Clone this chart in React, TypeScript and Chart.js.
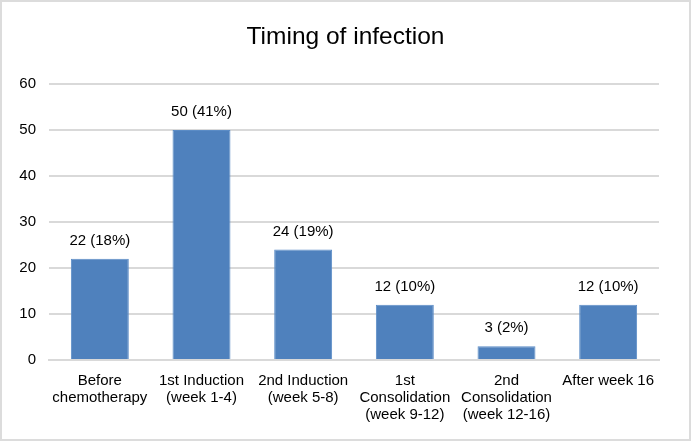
import React, { useEffect, useRef } from "react";
import { Chart, registerables } from "chart.js";

Chart.register(...registerables);

const categories: string[][] = [
  ["Before", "chemotherapy"],
  ["1st Induction", "(week 1-4)"],
  ["2nd Induction", "(week 5-8)"],
  ["1st", "Consolidation", "(week 9-12)"],
  ["2nd", "Consolidation", "(week 12-16)"],
  ["After week 16"],
];
const counts: number[] = [22, 50, 24, 12, 3, 12];
const percents: string[] = ["18%", "41%", "19%", "10%", "2%", "10%"];
const yTicks: number[] = [0, 10, 20, 30, 40, 50, 60];
const titleText = "Timing of infection";

const FONT = "'Liberation Sans', Arial, sans-serif";

export default function App() {
  const ref = useRef<HTMLCanvasElement | null>(null);

  useEffect(() => {
    document.body.style.margin = "0";
    const canvas = ref.current;
    if (!canvas) return;

    const frame = {
      id: "frame",
      beforeDraw(chart: any) {
        const c = chart.ctx;
        c.save();
        c.fillStyle = "#ffffff";
        c.fillRect(0, 0, chart.width, chart.height);
        c.font = `24.5px ${FONT}`;
        c.fillStyle = "#000000";
        c.textAlign = "center";
        c.textBaseline = "middle";
        c.fillText(titleText, chart.width / 2, 37);
        c.restore();
      },
      afterDraw(chart: any) {
        const c = chart.ctx;
        c.save();
        c.strokeStyle = "#dcdcdc";
        c.lineWidth = 2;
        c.strokeRect(1, 1, chart.width - 2, chart.height - 2);
        c.restore();
      },
    };

    const labels = {
      id: "valueLabels",
      afterDatasetsDraw(chart: any) {
        const c = chart.ctx;
        const meta = chart.getDatasetMeta(0);
        c.save();
        c.font = `15px ${FONT}`;
        c.fillStyle = "#000000";
        c.textAlign = "center";
        c.textBaseline = "middle";
        meta.data.forEach((bar: any, i: number) => {
          c.fillText(`${counts[i]} (${percents[i]})`, bar.x, bar.y - 18);
        });
        c.restore();
      },
    };

    const chart = new Chart(canvas, {
      type: "bar",
      data: {
        labels: categories,
        datasets: [
          {
            data: counts,
            backgroundColor: "#4f81bd",
            borderColor: "#5b8cc6",
            borderWidth: 1,
            categoryPercentage: 1,
            barPercentage: 0.57,
          },
        ],
      },
      options: {
        animation: false,
        responsive: false,
        devicePixelRatio: 1,
        layout: { padding: { left: 0, right: 32, top: 84, bottom: 0 } },
        plugins: {
          legend: { display: false },
          tooltip: { enabled: false },
          title: { display: false },
        },
        scales: {
          x: {
            grid: { display: false, drawTicks: false },
            border: { display: true, color: "#d9d9d9", width: 2 },
            ticks: {
              color: "#000000",
              font: { family: FONT, size: 15, lineHeight: 1.13 },
              padding: 12,
              maxRotation: 0,
              autoSkip: false,
            },
            afterFit(scale: any) {
              scale.height = 81;
            },
          },
          y: {
            min: 0,
            max: 60,
            afterBuildTicks(scale: any) {
              scale.ticks = yTicks.map((v) => ({ value: v }));
            },
            grid: { color: "#d9d9d9", lineWidth: 2, drawTicks: false },
            border: { display: false },
            ticks: {
              color: "#000000",
              font: { family: FONT, size: 15 },
              padding: 13,
            },
            afterFit(scale: any) {
              scale.width = 49;
            },
          },
        },
      },
      plugins: [frame, labels],
    });

    return () => chart.destroy();
  }, []);

  return (
    <div style={{ position: "absolute", left: 0, top: 0, width: 691, height: 441 }}>
      <canvas ref={ref} width={691} height={441} style={{ width: 691, height: 441 }} />
    </div>
  );
}
